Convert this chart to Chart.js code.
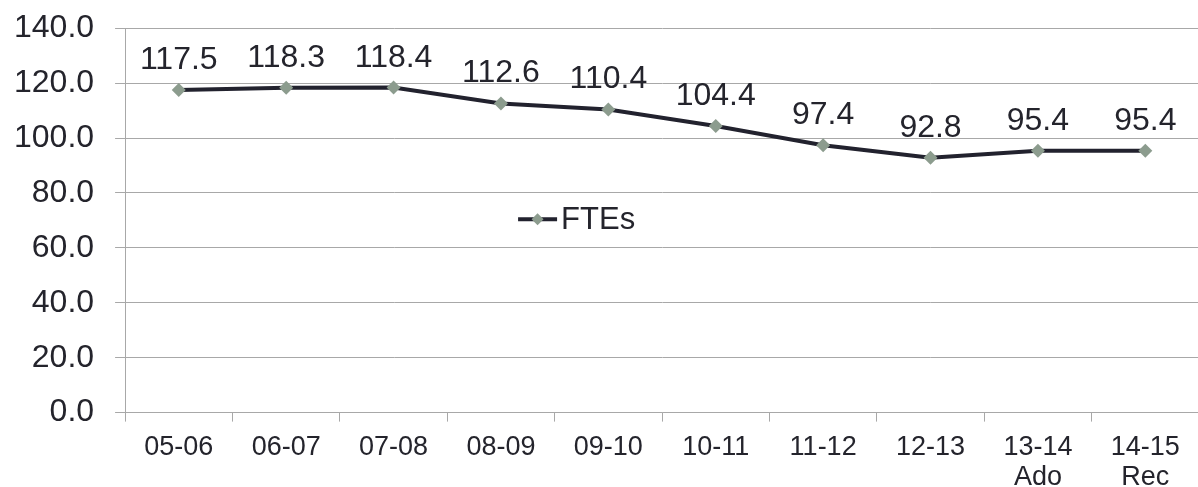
<!DOCTYPE html>
<html>
<head>
<meta charset="utf-8">
<title>FTEs</title>
<script src="https://cdn.jsdelivr.net/npm/chart.js@4/dist/chart.umd.min.js"></script>
<style>
    html, body { margin: 0; padding: 0; background: #fff; overflow: hidden; }
    #wrap { width: 1213px; height: 515px; position: relative; margin-left: -7px; margin-top: -12px; }
</style>
</head>
<body>
<div id="wrap"><canvas id="fteChart"></canvas></div>
<script>
const categories = ["05-06", "06-07", "07-08", "08-09", "09-10", "10-11", "11-12", "12-13", ["13-14", "Ado"], ["14-15", "Rec"]];
const fteValues = [117.5, 118.3, 118.4, 112.6, 110.4, 104.4, 97.4, 92.8, 95.4, 95.4];
const seriesName = "FTEs";

const textColor = "#24242c";
const lineColor = "#22222e";
const markerColor = "#8c9c8e";
const gridColor = "#a8a8a8";
const fontFamily = "'Liberation Sans', Arial, sans-serif";

// value labels above each point
const pointLabels = {
    id: "pointLabels",
    afterDatasetsDraw(chart) {
        const ctx = chart.ctx;
        const meta = chart.getDatasetMeta(0);
        ctx.save();
        ctx.font = "32px " + fontFamily;
        ctx.fillStyle = textColor;
        ctx.textAlign = "center";
        ctx.textBaseline = "alphabetic";
        meta.data.forEach((pt, i) => {
            ctx.fillText(fteValues[i].toFixed(1), pt.x, pt.y - 21);
        });
        ctx.restore();
    }
};

// legend drawn inside the plot area
const innerLegend = {
    id: "innerLegend",
    afterDraw(chart) {
        const ctx = chart.ctx;
        const area = chart.chartArea;
        const x = area.left + 393;
        const y = area.top + 191;
        ctx.save();
        ctx.strokeStyle = lineColor;
        ctx.lineWidth = 4;
        ctx.beginPath();
        ctx.moveTo(x, y);
        ctx.lineTo(x + 39, y);
        ctx.stroke();
        ctx.fillStyle = markerColor;
        ctx.beginPath();
        ctx.moveTo(x + 19.5, y - 6);
        ctx.lineTo(x + 25.5, y);
        ctx.lineTo(x + 19.5, y + 6);
        ctx.lineTo(x + 13.5, y);
        ctx.closePath();
        ctx.fill();
        ctx.font = "31px " + fontFamily;
        ctx.fillStyle = textColor;
        ctx.textAlign = "left";
        ctx.textBaseline = "middle";
        ctx.fillText(seriesName, x + 43, y + 1);
        ctx.restore();
    }
};

const ctx = document.getElementById("fteChart").getContext("2d");

new Chart(ctx, {
    type: "line",
    data: {
        labels: categories,
        datasets: [{
            label: seriesName,
            data: fteValues,
            borderColor: lineColor,
            borderWidth: 4,
            pointStyle: "rectRot",
            pointRadius: 7,
            pointBackgroundColor: markerColor,
            pointBorderColor: markerColor,
            pointBorderWidth: 0,
            tension: 0
        }]
    },
    options: {
        responsive: true,
        maintainAspectRatio: false,
        animation: false,
        layout: {
            padding: 0
        },
        plugins: {
            legend: { display: false },
            tooltip: { enabled: false }
        },
        scales: {
            x: {
                offset: true,
                grid: {
                    offset: true,
                    drawOnChartArea: false,
                    drawTicks: true,
                    tickLength: 9,
                    color: gridColor
                },
                border: { color: gridColor },
                ticks: {
                    color: textColor,
                    font: { family: fontFamily, size: 27, lineHeight: 1.1 },
                    padding: 11,
                    maxRotation: 0,
                    autoSkip: false
                }
            },
            y: {
                min: 0,
                max: 140,
                grid: {
                    color: gridColor,
                    tickLength: 10
                },
                border: { color: gridColor },
                ticks: {
                    stepSize: 20,
                    color: textColor,
                    font: { family: fontFamily, size: 32 },
                    padding: 21,
                    callback: v => v.toFixed(1)
                }
            }
        }
    },
    plugins: [pointLabels, innerLegend]
});
</script>
</body>
</html>
